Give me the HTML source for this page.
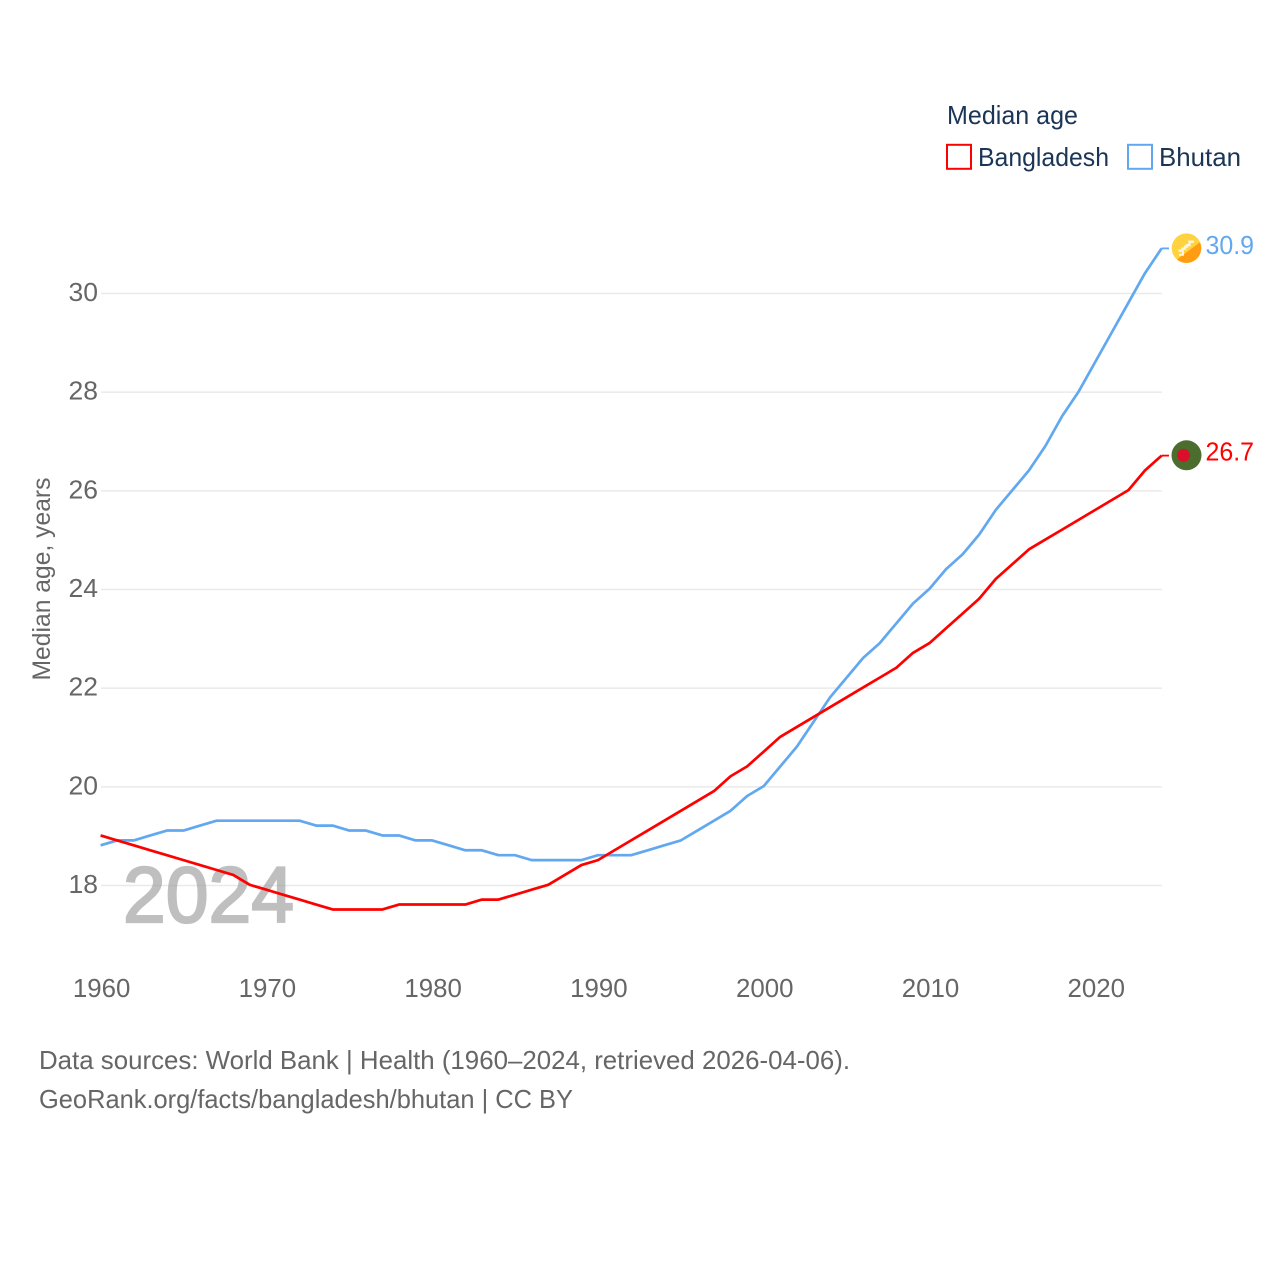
<!DOCTYPE html>
<html lang="en">
<head>
<meta charset="utf-8">
<title>Median age: Bangladesh and Bhutan</title>
<style>
html,body{margin:0;padding:0;background:#fff}
svg{display:block}
text{font-family:"Liberation Sans",sans-serif}
</style>
</head>
<body>
<svg id="chart" xmlns="http://www.w3.org/2000/svg" width="1280" height="1280" viewBox="0 0 1280 1280">
  <rect width="1280" height="1280" fill="#fff"/>
  <g id="grid"></g>
  <g id="yticks"></g>
  <g id="xticks"></g>
  <text transform="translate(50,579) rotate(-90)" text-anchor="middle" font-size="25" fill="#666" textLength="203" lengthAdjust="spacingAndGlyphs">Median age, years</text>
  <text x="123" y="922" font-size="79" font-weight="400" fill="#999" stroke="#999" stroke-width="2.2" opacity="0.62" textLength="171" lengthAdjust="spacingAndGlyphs">2024</text>
  <g id="series"></g>
  <g id="ends"></g>

  <g>
    <text x="947" y="124" font-size="26" fill="#1b3556" textLength="131" lengthAdjust="spacingAndGlyphs">Median age</text>
    <rect x="947" y="144.800" width="24" height="24" fill="#fff" stroke="#ff0000" stroke-width="2"/>
    <text x="978" y="166" font-size="26" fill="#1b3556" textLength="131" lengthAdjust="spacingAndGlyphs">Bangladesh</text>
    <rect x="1128" y="144.800" width="24" height="24" fill="#fff" stroke="#62a8f0" stroke-width="2"/>
    <text x="1159" y="166" font-size="26" fill="#1b3556" textLength="82" lengthAdjust="spacingAndGlyphs">Bhutan</text>
  </g>

  <g>
    <text x="39" y="1069" font-size="26" fill="#666" textLength="811" lengthAdjust="spacingAndGlyphs">Data sources: World Bank | Health (1960–2024, retrieved 2026-04-06).</text>
    <text x="39" y="1108" font-size="26" fill="#666" textLength="534" lengthAdjust="spacingAndGlyphs">GeoRank.org/facts/bangladesh/bhutan | CC BY</text>
  </g>
</svg>
<script>
const years = [];
for (let yr = 1960; yr <= 2024; yr++) years.push(yr);
const bangladesh = [19.0,18.9,18.8,18.7,18.6,18.5,18.4,18.3,18.2,18.0,17.9,17.8,17.7,17.6,17.5,17.5,17.5,17.5,17.6,17.6,17.6,17.6,17.6,17.7,17.7,17.8,17.9,18.0,18.2,18.4,18.5,18.7,18.9,19.1,19.3,19.5,19.7,19.9,20.2,20.4,20.7,21.0,21.2,21.4,21.6,21.8,22.0,22.2,22.4,22.7,22.9,23.2,23.5,23.8,24.2,24.5,24.8,25.0,25.2,25.4,25.6,25.8,26.0,26.4,26.7];
const bhutan = [18.8,18.9,18.9,19.0,19.1,19.1,19.2,19.3,19.3,19.3,19.3,19.3,19.3,19.2,19.2,19.1,19.1,19.0,19.0,18.9,18.9,18.8,18.7,18.7,18.6,18.6,18.5,18.5,18.5,18.5,18.6,18.6,18.6,18.7,18.8,18.9,19.1,19.3,19.5,19.8,20.0,20.4,20.8,21.3,21.8,22.2,22.6,22.9,23.3,23.7,24.0,24.4,24.7,25.1,25.6,26.0,26.4,26.9,27.5,28.0,28.6,29.2,29.8,30.4,30.9];
const yTickLabels = [18,20,22,24,26,28,30];
const xTickLabels = [1960,1970,1980,1990,2000,2010,2020];

const NS = 'http://www.w3.org/2000/svg';
const xScale = function (v) { return 100.6 + (v - 1960) * (1161.6 - 100.6) / 64; };
const yScale = function (v) { return 885.5 - (v - 18) * (885.5 - 293.5) / 12; };
const yLine = function (v) { return yScale(v) - 0.7; };
function make(tag, parent, props) {
  const el = document.createElementNS(NS, tag);
  Object.keys(props).forEach(function (k) { el.setAttribute(k, props[k]); });
  parent.appendChild(el);
  return el;
}
const gridG = document.getElementById('grid');
const yG = document.getElementById('yticks');
const xG = document.getElementById('xticks');
const seriesG = document.getElementById('series');
const endsG = document.getElementById('ends');

yTickLabels.forEach(function (t) {
  const ln = make('line', gridG, {x1: 101, x2: 1162, y1: yScale(t), y2: yScale(t), stroke: '#e9e9e9', 'stroke-width': 1.5});
  
  
  const tx = make('text', yG, {x: 98, y: yScale(t) + 7.5, 'text-anchor': 'end', 'font-size': 25.5, fill: '#666', textLength: 29.5, lengthAdjust: 'spacingAndGlyphs'});
  
  
  tx.textContent = t;
});
xTickLabels.forEach(function (t) {
  const tx = make('text', xG, {x: xScale(t) + 1, y: 997, 'text-anchor': 'middle', 'font-size': 25.5, fill: '#666', textLength: 57.5, lengthAdjust: 'spacingAndGlyphs'});
  
  
  tx.textContent = t;
});

function linePath(values) {
  return values.map(function (v, i) {
    return (i ? 'L' : 'M') + xScale(years[i]).toFixed(2) + ' ' + yLine(v).toFixed(2);
  }).join(' ');
}
const bhutanLine = make('path', seriesG, {d: linePath(bhutan), fill: 'none', stroke: '#62a8f0', 'stroke-width': 2.7, 'stroke-linejoin': 'round'});


const bangladeshLine = make('path', seriesG, {d: linePath(bangladesh), fill: 'none', stroke: '#ff0000', 'stroke-width': 2.7, 'stroke-linejoin': 'round'});



const lastBhutan = bhutan[bhutan.length - 1];
const lastBangladesh = bangladesh[bangladesh.length - 1];
const by = yLine(lastBhutan);
const ry = yLine(lastBangladesh);

const stubB = make('line', endsG, {x1: 1161.6, x2: 1169, y1: by, y2: by, stroke: '#62a8f0', 'stroke-width': 1.8});


const stubR = make('line', endsG, {x1: 1161.6, x2: 1169, y1: ry, y2: ry, stroke: '#ff0000', 'stroke-width': 1.8});



const flagB = make('g', endsG, {transform: 'translate(1186.5,' + (by - 0.2) + ')'});


make('circle', flagB, {r: 14.8, fill: '#ffd23f'});
make('path', flagB, {d: 'M13.5 -6A14.8 14.8 0 0 1 -9.5 11.3L13.5 -6Z', fill: '#ff9c12'});
make('path', flagB, {d: 'M-8 2.500H-4V0.500H-1.500V-1.500H0.500V-3H3V-6.500H7.500', fill: 'none', stroke: '#fff4dc', 'stroke-width': 2.4});
make('path', flagB, {d: 'M-7.500 6.500H-3.500V3', fill: 'none', stroke: '#fff4dc', 'stroke-width': 2});

const flagR = make('g', endsG, {transform: 'translate(1186.5,' + (ry - 0.3) + ')'});


make('circle', flagR, {r: 15, fill: '#4b6d2e'});
make('circle', flagR, {cx: -3, r: 6.5, fill: '#dc0f2b'});

const valB = make('text', endsG, {x: 1205.5, y: by + 5.5, 'font-size': 25.5, fill: '#62a8f0', textLength: 48.5, lengthAdjust: 'spacingAndGlyphs'});


valB.textContent = lastBhutan.toFixed(1);
const valR = make('text', endsG, {x: 1205.5, y: ry + 5, 'font-size': 25.5, fill: '#ff0000', textLength: 48.5, lengthAdjust: 'spacingAndGlyphs'});


valR.textContent = lastBangladesh.toFixed(1);
</script>
</body>
</html>
